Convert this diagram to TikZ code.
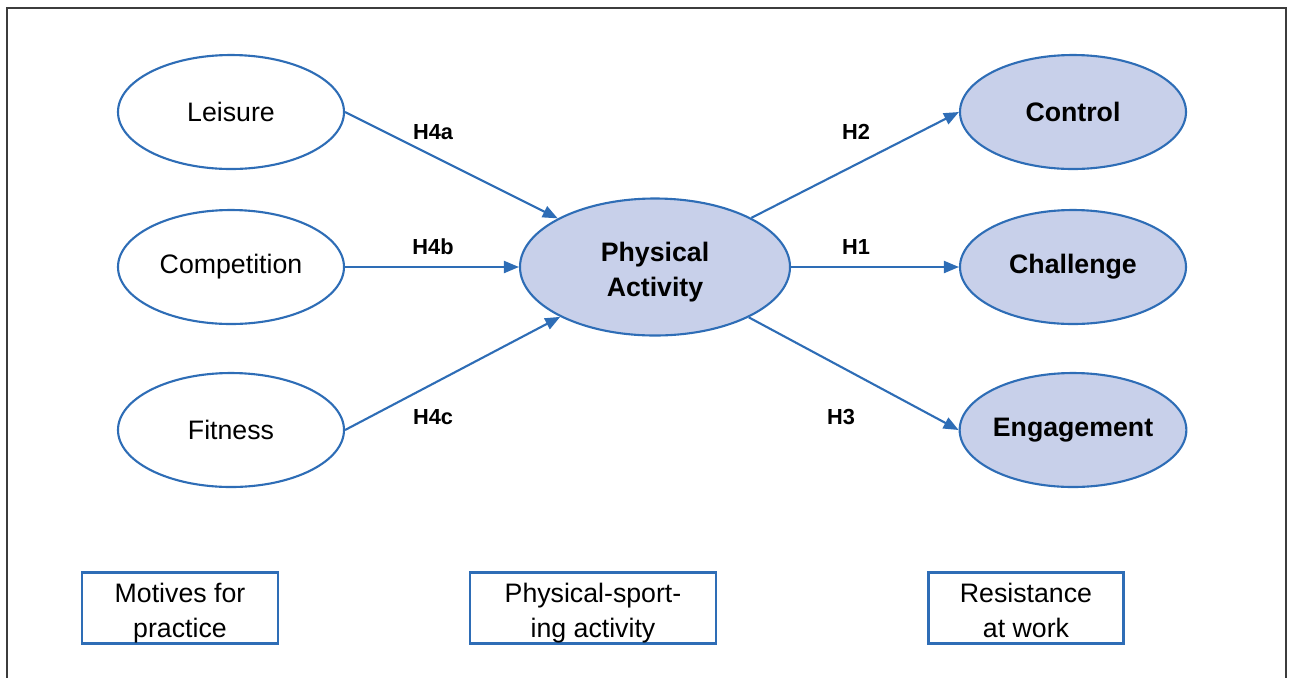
\documentclass[tikz,border=0pt]{standalone}
\usepackage{fontspec}
\setmainfont{Liberation Sans}
\usetikzlibrary{arrows.meta,shapes.geometric}
\definecolor{lineblue}{RGB}{46,109,182}
\definecolor{fillblue}{RGB}{200,208,234}
\definecolor{framegray}{RGB}{60,60,60}
\begin{document}
\begin{tikzpicture}[
        motive/.style={ellipse, draw=lineblue, line width=0.6pt, fill=white,
            minimum width=2.26cm, minimum height=1.14cm, inner sep=0pt,
            font=\fontsize{7.6}{10}\selectfont},
        outcome/.style={motive, fill=fillblue, font=\fontsize{7.6}{10}\selectfont\bfseries},
        central/.style={outcome, minimum width=2.70cm, minimum height=1.37cm, align=center,
            text height=17pt, text depth=0pt},
        legend/.style={draw=lineblue, line width=0.8pt, align=center, inner sep=0pt,
            minimum height=0.71cm, text height=16.8pt, text depth=0pt,
            font=\fontsize{7.6}{10}\selectfont},
        hyp/.style={font=\fontsize{6.2}{7}\selectfont\bfseries},
        path/.style={draw=lineblue, line width=0.6pt, -{Triangle[length=0.15cm, width=0.12cm]}}
    ]
        \useasboundingbox (0,0) rectangle (12.93,6.77);
        \draw[framegray, line width=0.5pt] (0.07,-0.1) |- (12.86,6.69) -- (12.86,-0.1);

        % motives
        \node[motive] (leisure) at (2.31,5.65) {Leisure};
        \node[motive] (competition) at (2.31,4.10) {Competition};
        \node[motive] (fitness) at (2.31,2.47) {Fitness};

        % physical activity
        \node[central] (activity) at (6.55,4.10) {Physical\\Activity};

        % resistance
        \node[outcome] (control) at (10.73,5.65) {Control};
        \node[outcome] (challenge) at (10.73,4.10) {Challenge};
        \node[outcome] (engagement) at (10.73,2.47) {Engagement};

        \draw[path] (leisure.east) -- (activity);
        \draw[path] (competition.east) -- (activity.west);
        \draw[path] (fitness.east) -- (activity);
        \draw[path] (activity) -- (control.west);
        \draw[path] (activity.east) -- (challenge.west);
        \draw[path] (activity) -- (engagement.west);

        \node[hyp] (h4a) at (4.33,5.45) {H4a};
        \node[hyp] (h4b) at (4.33,4.30) {H4b};
        \node[hyp] (h4c) at (4.33,2.60) {H4c};
        \node[hyp] (h2) at (8.56,5.45) {H2};
        \node[hyp] (h1) at (8.56,4.30) {H1};
        \node[hyp] (h3) at (8.41,2.60) {H3};

        % legend boxes
        \node[legend, minimum width=1.96cm] (motives) at (1.80,0.69) {Motives for\\practice};
        \node[legend, minimum width=2.46cm] (sporting) at (5.93,0.69) {Physical-sport-\\ing activity};
        \node[legend, minimum width=1.95cm] (resistance) at (10.26,0.69) {Resistance\\at work};
\end{tikzpicture}
\end{document}
